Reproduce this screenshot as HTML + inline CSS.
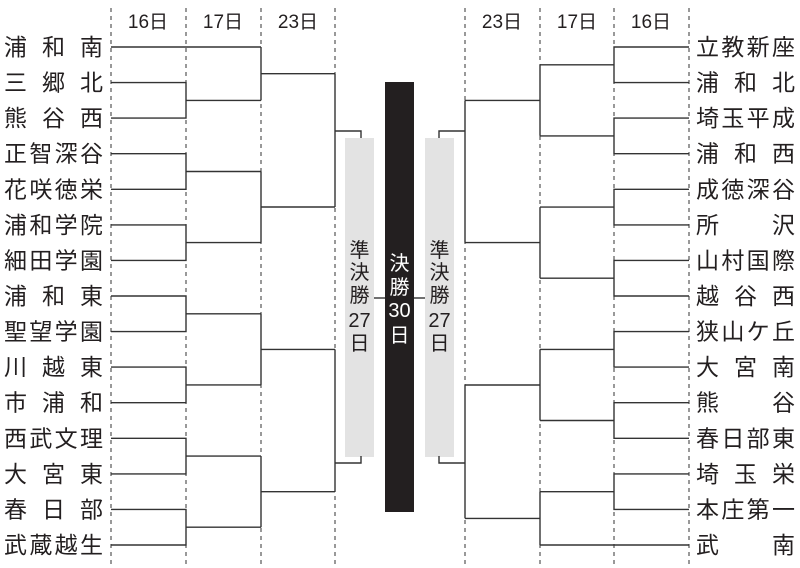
<!DOCTYPE html>
<html><head><meta charset="utf-8"><style>
html,body{margin:0;padding:0;background:#fff;}
svg{display:block;}
text{font-family:"Liberation Sans","Noto Sans CJK JP",sans-serif;fill:#231f20;}
</style></head><body>
<svg width="800" height="568" viewBox="0 0 800 568" xmlns="http://www.w3.org/2000/svg">
<g stroke="#333" stroke-width="1" stroke-dasharray="4,4">
<line x1="111" y1="8" x2="111" y2="568"/><line x1="186" y1="8" x2="186" y2="568"/>
<line x1="261" y1="8" x2="261" y2="568"/><line x1="335" y1="8" x2="335" y2="568"/>
<line x1="465" y1="8" x2="465" y2="568"/><line x1="540" y1="8" x2="540" y2="568"/>
<line x1="614" y1="8" x2="614" y2="568"/><line x1="689" y1="8" x2="689" y2="568"/>
</g>
<g font-size="19" text-anchor="middle">
<text x="148" y="28">16日</text><text x="223" y="28">17日</text><text x="298" y="28">23日</text>
<text x="502" y="28">23日</text><text x="577" y="28">17日</text><text x="651" y="28">16日</text>
</g>
<rect x="345" y="138" width="29" height="319" fill="#e3e3e3"/>
<rect x="425" y="138" width="29" height="319" fill="#e3e3e3"/>
<rect x="385" y="82" width="29" height="430" fill="#231f20"/>
<g stroke="#333" stroke-width="1.4" fill="none">
<line x1="374" y1="298" x2="385" y2="298"/><line x1="414" y1="298" x2="425" y2="298"/>
<path d="M111 47H261"/>
<path d="M111 82.6H186V118.1H111M186 100.4H261"/>
<path d="M111 153.7H186V189.3H111M186 171.5H261"/>
<path d="M111 224.9H186V260.4H111M186 242.6H261"/>
<path d="M111 296H186V331.6H111M186 313.8H261"/>
<path d="M111 367.1H186V402.7H111M186 384.9H261"/>
<path d="M111 438.3H186V473.9H111M186 456.1H261"/>
<path d="M111 509.4H186V545H111M186 527.2H261"/>
<path d="M261 47V100.4M261 73.7H335"/>
<path d="M261 171.5V242.6M261 207H335"/>
<path d="M261 313.8V384.9M261 349.4H335"/>
<path d="M261 456.1V527.2M261 491.7H335"/>
<path d="M335 73.7V207M335 131H361V138"/>
<path d="M335 349.4V491.7M335 463H361V456"/>
<path d="M689 47H614V82.6H689M614 64.8H540"/>
<path d="M689 118.1H614V153.7H689M614 135.9H540"/>
<path d="M689 189.3H614V224.9H689M614 207.1H540"/>
<path d="M689 260.4H614V296H689M614 278.2H540"/>
<path d="M689 331.6H614V367.1H689M614 349.4H540"/>
<path d="M689 402.7H614V438.3H689M614 420.5H540"/>
<path d="M689 473.9H614V509.4H689M614 491.7H540"/>
<path d="M689 545H540"/>
<path d="M540 64.8V135.9M540 100.4H465"/>
<path d="M540 207.1V278.2M540 242.6H465"/>
<path d="M540 349.4V420.5M540 385H465"/>
<path d="M540 491.7V545M540 518.4H465"/>
<path d="M465 100.4V242.6M465 131H439V138"/>
<path d="M465 385V518.4M465 463H439V456"/>
</g>
<g font-size="23">
<text x="4" y="55" textLength="99" lengthAdjust="spacing">浦和南</text>
<text x="4" y="90.6" textLength="99" lengthAdjust="spacing">三郷北</text>
<text x="4" y="126.1" textLength="99" lengthAdjust="spacing">熊谷西</text>
<text x="4" y="161.7" textLength="99" lengthAdjust="spacing">正智深谷</text>
<text x="4" y="197.3" textLength="99" lengthAdjust="spacing">花咲徳栄</text>
<text x="4" y="232.9" textLength="99" lengthAdjust="spacing">浦和学院</text>
<text x="4" y="268.4" textLength="99" lengthAdjust="spacing">細田学園</text>
<text x="4" y="304" textLength="99" lengthAdjust="spacing">浦和東</text>
<text x="4" y="339.6" textLength="99" lengthAdjust="spacing">聖望学園</text>
<text x="4" y="375.1" textLength="99" lengthAdjust="spacing">川越東</text>
<text x="4" y="410.7" textLength="99" lengthAdjust="spacing">市浦和</text>
<text x="4" y="446.3" textLength="99" lengthAdjust="spacing">西武文理</text>
<text x="4" y="481.9" textLength="99" lengthAdjust="spacing">大宮東</text>
<text x="4" y="517.4" textLength="99" lengthAdjust="spacing">春日部</text>
<text x="4" y="553" textLength="99" lengthAdjust="spacing">武蔵越生</text>
<text x="696" y="55" textLength="99" lengthAdjust="spacing">立教新座</text>
<text x="696" y="90.6" textLength="99" lengthAdjust="spacing">浦和北</text>
<text x="696" y="126.1" textLength="99" lengthAdjust="spacing">埼玉平成</text>
<text x="696" y="161.7" textLength="99" lengthAdjust="spacing">浦和西</text>
<text x="696" y="197.3" textLength="99" lengthAdjust="spacing">成徳深谷</text>
<text x="696" y="232.9" textLength="99" lengthAdjust="spacing">所沢</text>
<text x="696" y="268.4" textLength="99" lengthAdjust="spacing">山村国際</text>
<text x="696" y="304" textLength="99" lengthAdjust="spacing">越谷西</text>
<text x="696" y="339.6" textLength="99" lengthAdjust="spacing">狭山ケ丘</text>
<text x="696" y="375.1" textLength="99" lengthAdjust="spacing">大宮南</text>
<text x="696" y="410.7" textLength="99" lengthAdjust="spacing">熊谷</text>
<text x="696" y="446.3" textLength="99" lengthAdjust="spacing">春日部東</text>
<text x="696" y="481.9" textLength="99" lengthAdjust="spacing">埼玉栄</text>
<text x="696" y="517.4" textLength="99" lengthAdjust="spacing">本庄第一</text>
<text x="696" y="553" textLength="99" lengthAdjust="spacing">武南</text>
</g>
<g font-size="20" text-anchor="middle">
<text x="359.5" y="257">準</text><text x="359.5" y="279">決</text><text x="359.5" y="302">勝</text>
<text x="359.5" y="327">27</text><text x="359.5" y="350">日</text>
<text x="439.5" y="257">準</text><text x="439.5" y="279">決</text><text x="439.5" y="302">勝</text>
<text x="439.5" y="327">27</text><text x="439.5" y="350">日</text>
</g>
<g font-size="20" text-anchor="middle">
<text x="399.5" y="270" style="fill:#fff">決</text><text x="399.5" y="294" style="fill:#fff">勝</text>
<text x="399.5" y="317" style="fill:#fff">30</text><text x="399.5" y="342" style="fill:#fff">日</text>
</g>
</svg>
</body></html>
